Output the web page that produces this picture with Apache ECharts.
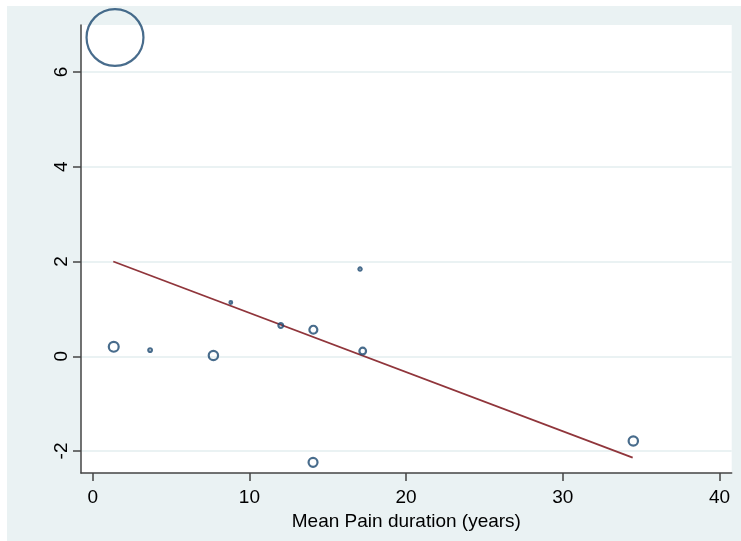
<!DOCTYPE html>
<html>
<head>
<meta charset="utf-8">
<script src="https://cdn.jsdelivr.net/npm/echarts@6/dist/echarts.min.js"></script>
<style>
  html, body { margin: 0; padding: 0; background: #ffffff; }
  #wrap { position: relative; width: 741px; height: 541px; background: #ffffff; }
  #chart { position: absolute; left: 7px; top: 6px; width: 734px; height: 535px; }
</style>
</head>
<body>
<div id="wrap"><div id="chart"></div></div>
<script>
// Study-level effects against mean pain duration, bubble area ~ study weight
const painDuration = [1.42, 1.34, 3.66, 7.70, 8.81, 12.0, 14.08, 17.06, 17.23, 14.06, 34.5];
const effectSize   = [6.73, 0.20, 0.13, 0.015, 1.135, 0.65, 0.56, 1.84, 0.11, -2.24, -1.79];
const studyWeight  = [80.9, 3.3, 0.75, 3.0, 0.5, 1.05, 2.3, 0.65, 1.75, 2.8, 3.0];

// Fitted meta-regression line (end points over the observed range)
const fitX = [1.31, 34.46];
const fitY = [2.00, -2.14];

const xTicks = [0, 10, 20, 30, 40];
const yTicks = [-2, 0, 2, 4, 6];

const points = painDuration.map((x, i) => [x, effectSize[i], studyWeight[i]]);
const fitLine = fitX.map((x, i) => [x, fitY[i]]);

const font = 'Liberation Sans, Arial, Helvetica, sans-serif';
const chart = echarts.init(document.getElementById('chart'));

chart.setOption({
  backgroundColor: '#EAF2F3',
  animation: false,
  grid: {
    left: 74, top: 19, right: 9.3, bottom: 68,
    show: true, backgroundColor: '#ffffff', borderWidth: 0
  },
  xAxis: {
    type: 'value',
    min: -0.75, max: 40.78,
    name: 'Mean Pain duration (years)',
    nameLocation: 'middle',
    nameGap: 30,
    nameTextStyle: { fontSize: 19, color: '#000', fontFamily: font },
    axisLine: { show: true, onZero: false, lineStyle: { color: '#444', width: 1.5 } },
    axisTick: { show: true, inside: false, length: 8, customValues: xTicks, lineStyle: { color: '#444', width: 1.5 } },
    axisLabel: { customValues: xTicks, fontSize: 19, color: '#000', fontFamily: font, margin: 15 },
    splitLine: { show: false }
  },
  yAxis: {
    type: 'value',
    min: -2.465, max: 6.994,
    axisLine: { show: true, onZero: false, lineStyle: { color: '#444', width: 1.5 } },
    axisTick: { show: true, inside: false, length: 8, customValues: yTicks, lineStyle: { color: '#444', width: 1.5 } },
    axisLabel: { customValues: yTicks, rotate: 90, fontSize: 19, color: '#000', fontFamily: font, margin: 10 },
    splitLine: { show: true, lineStyle: { color: '#EAF2F3', width: 2 } }
  },
  series: [
    {
      type: 'scatter',
      data: points,
      clip: false,
      symbol: 'circle',
      symbolSize: v => 6.55 * Math.sqrt(v[2]) - 2,
      itemStyle: { color: 'rgba(0,0,0,0)', borderColor: '#1a476f', borderWidth: 2.2 },
      z: 3
    },
    {
      type: 'line',
      data: fitLine,
      showSymbol: false,
      symbol: 'none',
      lineStyle: { color: '#90353b', width: 1.8 },
      z: 2
    }
  ]
});
</script>
</body>
</html>
